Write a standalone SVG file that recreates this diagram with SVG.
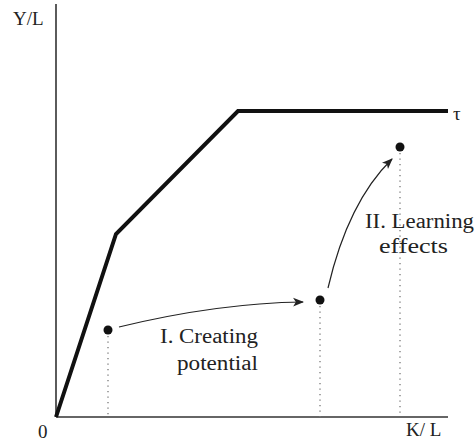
<svg xmlns="http://www.w3.org/2000/svg" width="475" height="444" viewBox="0 0 475 444">
<defs>
<style>
text{fill:#222;font-size:19px}
.lbl{font-size:20px}
.axis{stroke:#333;stroke-width:1.6;fill:none}
.curve{stroke:#111;stroke-width:4;fill:none;stroke-linejoin:miter}
.drop{stroke:#777;stroke-width:1.3;stroke-dasharray:1.3 4.2;fill:none}
.arrow{stroke:#222;stroke-width:1.2;fill:none}
.dot{fill:#111}
</style>
<marker id="ah" viewBox="0 0 10 10" refX="9" refY="5" markerWidth="11" markerHeight="11" markerUnits="userSpaceOnUse" orient="auto">
<path d="M0,1 L10,5 L0,9 L2.5,5 Z" fill="#222"/>
</marker>
</defs>
<rect width="475" height="444" fill="#fff"/>
<g font-family="'Liberation Serif', 'DejaVu Serif', 'Times New Roman', serif">
<g id="axes">
<line class="axis" x1="56" y1="4" x2="56" y2="417"/>
<line class="axis" x1="56" y1="417" x2="448" y2="417"/>
<text x="13" y="25">Y/L</text>
<text x="38" y="438">0</text>
<text x="406" y="436">K/ L</text>
</g>
<g id="frontier">
<polyline class="curve" points="56,417 116,234 238,111 448,111"/>
<text x="453" y="120">τ</text>
</g>
<g id="connectors">
<line class="drop" x1="108" y1="336" x2="108" y2="417"/>
<line class="drop" x1="320" y1="306" x2="320" y2="417"/>
<line class="drop" x1="400" y1="153" x2="400" y2="417"/>
<path class="arrow" d="M119,327 Q218,303 303,302" marker-end="url(#ah)"/>
<path class="arrow" d="M328,288 Q348,202 392,159" marker-end="url(#ah)"/>
</g>
<g id="p1"><circle class="dot" cx="108" cy="330" r="4.5"/></g>
<g id="p2"><circle class="dot" cx="320" cy="300" r="4.5"/></g>
<g id="p3"><circle class="dot" cx="400" cy="147" r="4.5"/></g>
<g id="label1">
<text class="lbl" x="160" y="343" textLength="98" lengthAdjust="spacingAndGlyphs">I. Creating</text>
<text class="lbl" x="177" y="370" textLength="81" lengthAdjust="spacingAndGlyphs">potential</text>
</g>
<g id="label2">
<text class="lbl" x="365" y="228" textLength="109" lengthAdjust="spacingAndGlyphs">II. Learning</text>
<text class="lbl" x="379" y="253" textLength="69" lengthAdjust="spacingAndGlyphs">effects</text>
</g>
</g>
</svg>
